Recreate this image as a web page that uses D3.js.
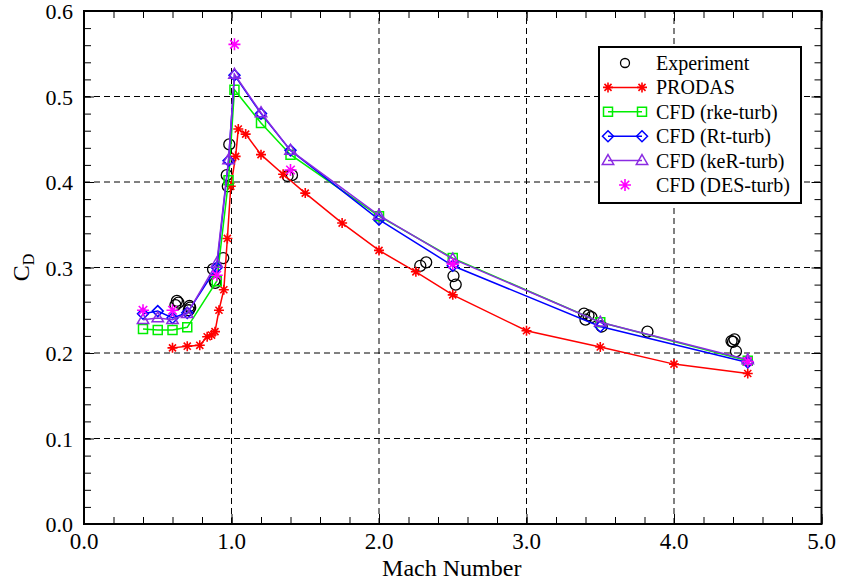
<!DOCTYPE html>
<html>
<head>
<meta charset="utf-8">
<script src="https://cdn.jsdelivr.net/npm/d3@7"></script>
<style>
	body { margin: 0; background: #fff; }
	svg { display: block; font-family: "Liberation Serif", "DejaVu Serif", serif; }
</style>
</head>
<body>
<div id="chart"></div>
<script>
// Drag coefficient vs Mach number

var xTicks = [0, 1, 2, 3, 4, 5];
var yTicks = [0, 0.1, 0.2, 0.3, 0.4, 0.5, 0.6];

var expMach = [0.62, 0.63, 0.64, 0.71, 0.715, 0.72, 0.875, 0.885, 0.89, 0.944, 0.968, 0.975, 0.985,
	1.38, 1.41, 2.28, 2.32, 2.505, 2.52, 3.39, 3.42, 3.44, 3.40, 3.51, 3.82, 4.39, 4.41, 4.40, 4.42];
var expCd = [0.256, 0.261, 0.259, 0.250, 0.255, 0.253, 0.298, 0.285, 0.282, 0.311, 0.408, 0.395, 0.444,
	0.407, 0.408, 0.302, 0.306, 0.290, 0.280, 0.246, 0.244, 0.242, 0.239, 0.231, 0.225, 0.214, 0.216, 0.213, 0.202];

var prodasMach = [0.6, 0.7, 0.785, 0.835, 0.865, 0.888, 0.915, 0.948, 0.972, 0.995, 1.028, 1.046, 1.096,
	1.2, 1.35, 1.5, 1.75, 2.0, 2.25, 2.5, 3.0, 3.5, 4.0, 4.5];
var prodasCd = [0.206, 0.208, 0.209, 0.219, 0.221, 0.225, 0.250, 0.274, 0.334, 0.395, 0.430, 0.462, 0.456,
	0.432, 0.409, 0.387, 0.352, 0.320, 0.295, 0.268, 0.226, 0.207, 0.187, 0.176];

var cfdMach = [0.4, 0.5, 0.6, 0.7, 0.9, 0.98, 1.02, 1.2, 1.4, 2.0, 2.5, 3.5, 4.5];
var rkeCd = [0.228, 0.227, 0.227, 0.230, 0.284, 0.402, 0.508, 0.469, 0.432, 0.360, 0.311, 0.236, 0.191];
var rtCd  = [0.246, 0.249, 0.241, 0.247, 0.300, 0.425, 0.525, 0.480, 0.437, 0.356, 0.302, 0.231, 0.189];
var kerCd = [0.239, 0.241, 0.239, 0.246, 0.305, 0.426, 0.526, 0.481, 0.437, 0.361, 0.310, 0.236, 0.192];

var desMach = [0.4, 0.6, 0.9, 1.02, 1.4, 2.5, 4.5];
var desCd = [0.250, 0.250, 0.291, 0.561, 0.414, 0.304, 0.190];

var legendNames = ["Experiment", "PRODAS", "CFD (rke-turb)", "CFD (Rt-turb)", "CFD (keR-turb)", "CFD (DES-turb)"];

var width = 846, height = 582;
var margin = {left: 84, right: 24.5, top: 11, bottom: 58};

function zip(a, b) {
	return a.map(function (d, i) { return [d, b[i]]; });
}

// marker paths centred on 0,0
function asterisk(r) {
	var k = r * 0.7071;
	return "M" + -r + ",0H" + r + "M0," + -r + "V" + r +
		"M" + -k + "," + -k + "L" + k + "," + k + "M" + -k + "," + k + "L" + k + "," + -k;
}
function diamond(r) {
	return "M0," + -r + "L" + r + ",0L0," + r + "L" + -r + ",0Z";
}
function triangle(r) {
	return "M0," + (-r) + "L" + (r * 0.95) + "," + (r * 0.65) + "L" + (-r * 0.95) + "," + (r * 0.65) + "Z";
}
function square(r) {
	return "M" + -r + "," + -r + "H" + r + "V" + r + "H" + -r + "Z";
}
function circle(r) {
	return "M" + r + ",0A" + r + "," + r + " 0 1,1 " + -r + ",0A" + r + "," + r + " 0 1,1 " + r + ",0Z";
}

var series = [
	{name: legendNames[0], data: zip(expMach, expCd), color: "#000", line: false, shape: circle(5.5), sw: 1.3},
	{name: legendNames[1], data: zip(prodasMach, prodasCd), color: "#ff0000", line: true, shape: asterisk(5), sw: 1.6},
	{name: legendNames[2], data: zip(cfdMach, rkeCd), color: "#00ee00", line: true, shape: square(4.5), sw: 1.5},
	{name: legendNames[3], data: zip(cfdMach, rtCd), color: "#0000ff", line: true, shape: diamond(5.5), sw: 1.5},
	{name: legendNames[4], data: zip(cfdMach, kerCd), color: "#8a2be2", line: true, shape: triangle(6), sw: 1.5},
	{name: legendNames[5], data: zip(desMach, desCd), color: "#ff00ff", line: false, shape: asterisk(6), sw: 1.6}
];

var svg = d3.select("#chart").append("svg")
	.attr("width", width)
	.attr("height", height);

var x = d3.scaleLinear().domain([0, 5]).range([margin.left, width - margin.right]);
var y = d3.scaleLinear().domain([0, 0.6]).range([height - margin.bottom, margin.top]);

var x0 = x.range()[0], x1 = x.range()[1], y0 = y.range()[0], y1 = y.range()[1];

// grid
var grid = svg.append("g").attr("stroke", "#000").attr("stroke-width", 1).attr("stroke-dasharray", "6,4");
grid.selectAll("line.gx").data(xTicks.slice(1, -1)).enter().append("line")
	.attr("x1", function (d) { return x(d); }).attr("x2", function (d) { return x(d); })
	.attr("y1", y0).attr("y2", y1);
grid.selectAll("line.gy").data(yTicks.slice(1, -1)).enter().append("line")
	.attr("y1", function (d) { return y(d); }).attr("y2", function (d) { return y(d); })
	.attr("x1", x0).attr("x2", x1);

// axes with inward ticks on all four sides
var xMinor = d3.range(0, 5.0001, 0.2);
var yMinor = d3.range(0, 0.6001, 0.02);

svg.append("g").attr("transform", "translate(0," + y0 + ")")
	.call(d3.axisTop(x).tickValues(xMinor).tickSize(7).tickFormat(""));
svg.append("g").attr("transform", "translate(0," + y1 + ")")
	.call(d3.axisBottom(x).tickValues(xMinor).tickSize(7).tickFormat(""));
svg.append("g").attr("transform", "translate(" + x0 + ",0)")
	.call(d3.axisRight(y).tickValues(yMinor).tickSize(7).tickFormat(""));
svg.append("g").attr("transform", "translate(" + x1 + ",0)")
	.call(d3.axisLeft(y).tickValues(yMinor).tickSize(7).tickFormat(""));
svg.append("g").attr("transform", "translate(0," + y0 + ")")
	.call(d3.axisTop(x).tickValues(xTicks).tickSize(10).tickFormat(""));
svg.append("g").attr("transform", "translate(" + x0 + ",0)")
	.call(d3.axisRight(y).tickValues(yTicks).tickSize(10).tickFormat(""));
svg.append("g").attr("transform", "translate(0," + y1 + ")")
	.call(d3.axisBottom(x).tickValues(xTicks).tickSize(10).tickFormat(""));
svg.append("g").attr("transform", "translate(" + x1 + ",0)")
	.call(d3.axisLeft(y).tickValues(yTicks).tickSize(10).tickFormat(""));
svg.selectAll(".domain").remove();
svg.selectAll(".tick line").attr("stroke", "#000").attr("stroke-width", 1);

svg.append("rect")
	.attr("x", x0).attr("y", y1).attr("width", x1 - x0).attr("height", y0 - y1)
	.attr("fill", "none").attr("stroke", "#000").attr("stroke-width", 2);

// tick labels
svg.selectAll("text.xl").data(xTicks).enter().append("text")
	.attr("x", function (d) { return x(d); }).attr("y", y0 + 25)
	.attr("text-anchor", "middle").attr("font-size", 23)
	.text(function (d) { return d3.format(".1f")(d); });
svg.selectAll("text.yl").data(yTicks).enter().append("text")
	.attr("x", x0 - 11).attr("y", function (d) { return y(d) + 8; })
	.attr("text-anchor", "end").attr("font-size", 22)
	.text(function (d) { return d3.format(".1f")(d); });

svg.append("text")
	.attr("x", (x0 + x1) / 2 - 1).attr("y", 576)
	.attr("text-anchor", "middle").attr("font-size", 24)
	.text("Mach Number");

var yt = svg.append("text")
	.attr("transform", "translate(29," + ((y0 + y1) / 2) + ") rotate(-90)")
	.attr("text-anchor", "middle").attr("font-size", 24);
yt.append("tspan").text("C");
yt.append("tspan").attr("font-size", 16).attr("dy", 5).text("D");

// series
var line = d3.line()
	.x(function (d) { return x(d[0]); })
	.y(function (d) { return y(d[1]); });

series.forEach(function (s) {
	var g = svg.append("g");
	if (s.line) {
		g.append("path").datum(s.data)
			.attr("d", line)
			.attr("fill", "none")
			.attr("stroke", s.color)
			.attr("stroke-width", 1.5);
	}
	g.selectAll("path.m").data(s.data).enter().append("path")
		.attr("class", "m")
		.attr("transform", function (d) { return "translate(" + x(d[0]) + "," + y(d[1]) + ")"; })
		.attr("d", s.shape)
		.attr("fill", "none")
		.attr("stroke", s.color)
		.attr("stroke-width", s.sw);
});

// legend
var lg = svg.append("g");
lg.append("rect")
	.attr("x", 599).attr("y", 47).attr("width", 202).attr("height", 156)
	.attr("fill", "#fff").attr("stroke", "#000").attr("stroke-width", 2);

series.forEach(function (s, i) {
	var ry = 63 + i * 24.4;
	var row = lg.append("g");
	if (s.line) {
		row.append("line").attr("x1", 608).attr("x2", 642).attr("y1", ry).attr("y2", ry)
			.attr("stroke", s.color).attr("stroke-width", 1.5);
		[608, 642].forEach(function (px) {
			row.append("path").attr("transform", "translate(" + px + "," + ry + ")")
				.attr("d", s.shape).attr("fill", "none").attr("stroke", s.color).attr("stroke-width", s.sw);
		});
	} else {
		row.append("path").attr("transform", "translate(625," + ry + ")")
			.attr("d", s === series[0] ? circle(4.5) : s.shape)
			.attr("fill", "none").attr("stroke", s.color).attr("stroke-width", s.sw);
	}
	row.append("text").attr("x", 656).attr("y", ry + 7)
		.attr("font-size", 20).text(s.name);
});
</script>
</body>
</html>
